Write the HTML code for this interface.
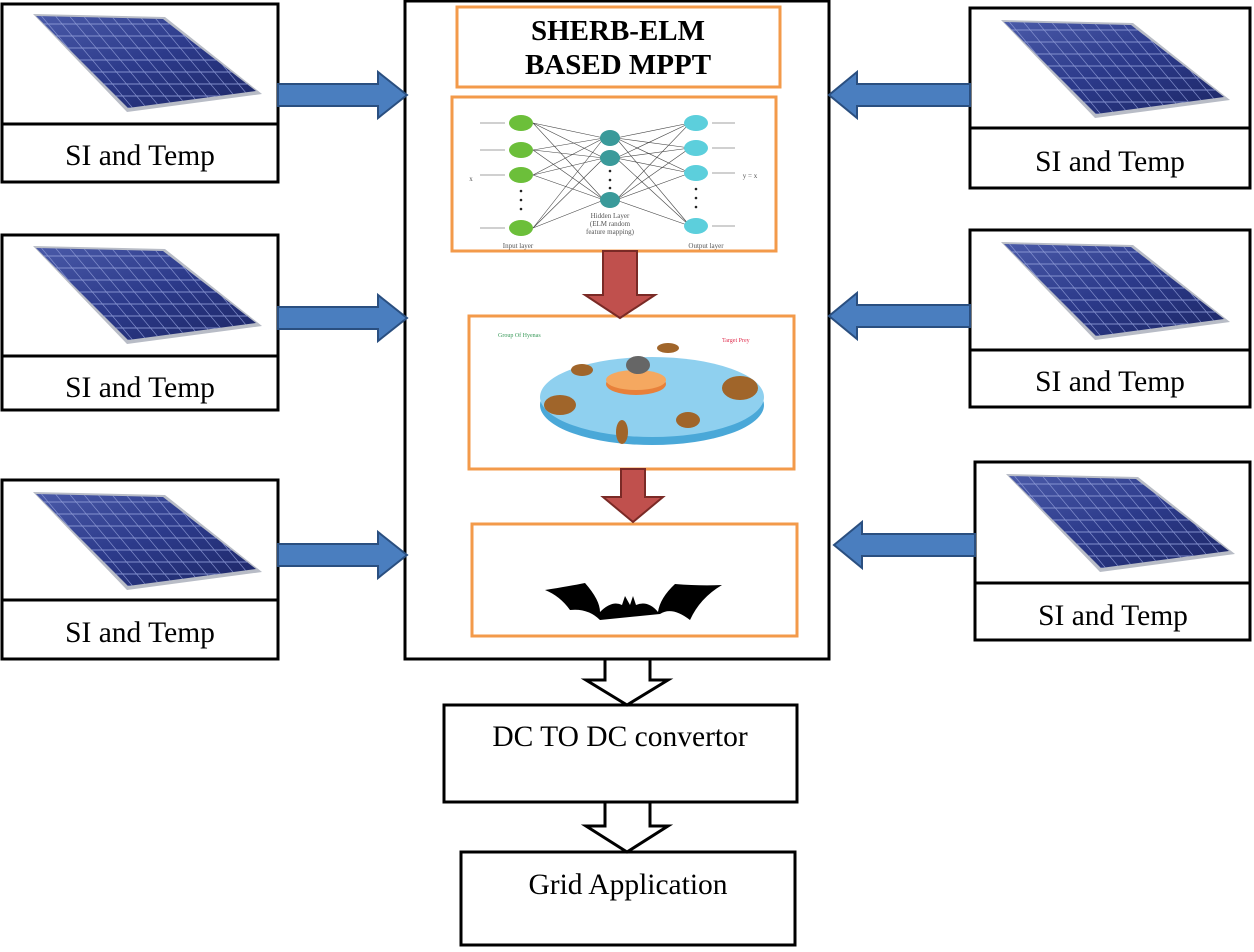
<!DOCTYPE html>
<html><head><meta charset="utf-8"><style>
body{margin:0;background:#fff}
text{font-family:"Liberation Serif",serif}
</style></head><body>
<svg width="1254" height="947" xmlns="http://www.w3.org/2000/svg">
<defs>
<linearGradient id="pg" x1="0" y1="0" x2="1" y2="1">
<stop offset="0" stop-color="#4a5aa8"/><stop offset="0.5" stop-color="#2c3a8a"/><stop offset="1" stop-color="#1d2766"/>
</linearGradient>
<pattern id="grid" width="14" height="12" patternUnits="userSpaceOnUse" patternTransform="skewX(40)">
<rect width="14" height="12" fill="none" stroke="#8d9ad6" stroke-width="0.8"/>
</pattern>
<g id="panel">
<polygon points="33,14 165,17 262,94 127,112" fill="#b8bcc6"/>
<polygon points="36,16 163,19 256,91 128,108" fill="url(#pg)"/>
<polygon points="36,16 163,19 256,91 128,108" fill="url(#grid)"/>
</g>
</defs>

<g fill="none" stroke="#000" stroke-width="3">
<rect x="2" y="4" width="276" height="178"/><line x1="2" y1="124" x2="278" y2="124"/>
<rect x="2" y="235" width="276" height="175"/><line x1="2" y1="356" x2="278" y2="356"/>
<rect x="2" y="480" width="276" height="179"/><line x1="2" y1="600" x2="278" y2="600"/>
<rect x="970" y="8" width="280" height="180"/><line x1="970" y1="128" x2="1250" y2="128"/>
<rect x="970" y="230" width="280" height="177"/><line x1="970" y1="350" x2="1250" y2="350"/>
<rect x="975" y="462" width="275" height="178"/><line x1="975" y1="583" x2="1250" y2="583"/>
<rect x="405" y="1" width="424" height="658"/>
<rect x="444" y="705" width="353" height="97"/>
<rect x="461" y="852" width="334" height="93"/>
</g>
<use href="#panel"/>
<use href="#panel" transform="translate(0,232)"/>
<use href="#panel" transform="translate(0,478)"/>
<use href="#panel" transform="translate(968,6)"/>
<use href="#panel" transform="translate(968,228)"/>
<use href="#panel" transform="translate(973,460)"/>

<g font-size="29.5" text-anchor="middle" fill="#000">
<text x="140" y="165">SI and Temp</text>
<text x="140" y="397">SI and Temp</text>
<text x="140" y="642">SI and Temp</text>
<text x="1110" y="171">SI and Temp</text>
<text x="1110" y="391">SI and Temp</text>
<text x="1113" y="625">SI and Temp</text>
<text x="620" y="746">DC TO DC convertor</text>
<text x="628" y="894">Grid Application</text>
</g>

<g fill="#4a7ebf" stroke="#2a4f80" stroke-width="2">
<polygon points="278,84 378,84 378,72 407,95 378,118 378,106 278,106"/>
<polygon points="278,307 378,307 378,295 407,318 378,341 378,329 278,329"/>
<polygon points="278,544 378,544 378,532 407,555 378,578 378,566 278,566"/>
<polygon points="970,84 857,84 857,72 829,95 857,118 857,106 970,106"/>
<polygon points="970,305 857,305 857,293 829,316 857,339 857,327 970,327"/>
<polygon points="975,534 862,534 862,522 834,545 862,568 862,556 975,556"/>
</g>

<g fill="#fff" stroke="#f39a4a" stroke-width="3">
<rect x="457" y="7" width="323" height="80"/>
<rect x="452" y="97" width="324" height="154"/>
<rect x="469" y="316" width="325" height="153"/>
<rect x="472" y="524" width="325" height="112"/>
</g>
<g font-size="29" font-weight="bold" text-anchor="middle">
<text x="618" y="40">SHERB-ELM</text>
<text x="618" y="74">BASED MPPT</text>
</g>

<g fill="#c0504d" stroke="#7a2a26" stroke-width="2">
<polygon points="603,251 637,251 637,295 655,295 620,318 585,295 603,295"/>
<polygon points="621,469 645,469 645,497 663,497 633,522 603,497 621,497"/>
</g>

<g fill="#fff" stroke="#000" stroke-width="3">
<polygon points="605,659 650,659 650,680 668,680 627,705 586,680 605,680"/>
<polygon points="605,802 650,802 650,826 668,826 627,852 586,826 605,826"/>
</g>

<g stroke="#444" stroke-width="0.6">
<line x1="533" y1="123" x2="604" y2="138"/><line x1="533" y1="123" x2="604" y2="158"/><line x1="533" y1="123" x2="604" y2="200"/>
<line x1="533" y1="150" x2="604" y2="138"/><line x1="533" y1="150" x2="604" y2="158"/><line x1="533" y1="150" x2="604" y2="200"/>
<line x1="533" y1="175" x2="604" y2="138"/><line x1="533" y1="175" x2="604" y2="158"/><line x1="533" y1="175" x2="604" y2="200"/>
<line x1="533" y1="228" x2="604" y2="138"/><line x1="533" y1="228" x2="604" y2="158"/><line x1="533" y1="228" x2="604" y2="200"/>
<line x1="690" y1="123" x2="616" y2="138"/><line x1="690" y1="123" x2="616" y2="158"/><line x1="690" y1="123" x2="616" y2="200"/>
<line x1="690" y1="148" x2="616" y2="138"/><line x1="690" y1="148" x2="616" y2="158"/><line x1="690" y1="148" x2="616" y2="200"/>
<line x1="690" y1="173" x2="616" y2="138"/><line x1="690" y1="173" x2="616" y2="158"/><line x1="690" y1="173" x2="616" y2="200"/>
<line x1="690" y1="226" x2="616" y2="138"/><line x1="690" y1="226" x2="616" y2="158"/><line x1="690" y1="226" x2="616" y2="200"/>
<line x1="480" y1="123" x2="505" y2="123"/><line x1="480" y1="150" x2="505" y2="150"/><line x1="480" y1="175" x2="505" y2="175"/><line x1="480" y1="228" x2="505" y2="228"/>
<line x1="712" y1="123" x2="735" y2="123"/><line x1="712" y1="148" x2="735" y2="148"/><line x1="712" y1="173" x2="735" y2="173"/><line x1="712" y1="226" x2="735" y2="226"/>
</g>
<g fill="#222"><circle cx="521" cy="191" r="1.3"/><circle cx="521" cy="200" r="1.3"/><circle cx="521" cy="209" r="1.3"/>
<circle cx="610" cy="171" r="1.3"/><circle cx="610" cy="180" r="1.3"/><circle cx="610" cy="188" r="1.3"/>
<circle cx="696" cy="189" r="1.3"/><circle cx="696" cy="198" r="1.3"/><circle cx="696" cy="207" r="1.3"/></g>
<g fill="#6cbf3a"><ellipse cx="521" cy="123" rx="12" ry="8"/><ellipse cx="521" cy="150" rx="12" ry="8"/><ellipse cx="521" cy="175" rx="12" ry="8"/><ellipse cx="521" cy="228" rx="12" ry="8"/></g>
<g fill="#3a9a9a"><ellipse cx="610" cy="138" rx="10" ry="8"/><ellipse cx="610" cy="158" rx="10" ry="8"/><ellipse cx="610" cy="200" rx="10" ry="8"/></g>
<g fill="#5ccfdc"><ellipse cx="696" cy="123" rx="12" ry="8"/><ellipse cx="696" cy="148" rx="12" ry="8"/><ellipse cx="696" cy="173" rx="12" ry="8"/><ellipse cx="696" cy="226" rx="12" ry="8"/></g>
<g font-size="7" fill="#555" text-anchor="middle">
<text x="610" y="218">Hidden Layer</text><text x="610" y="226">(ELM random</text><text x="610" y="234">feature mapping)</text>
<text x="518" y="248">Input layer</text><text x="706" y="248">Output layer</text>
<text x="750" y="178">y = x</text><text x="471" y="181">x</text>
</g>

<ellipse cx="652" cy="405" rx="112" ry="40" fill="#4aa8d8"/>
<ellipse cx="652" cy="397" rx="112" ry="40" fill="#8fd0ef"/>
<ellipse cx="636" cy="384" rx="30" ry="11" fill="#e8803a"/>
<ellipse cx="636" cy="380" rx="30" ry="10" fill="#f5a860"/>
<g fill="#a0652a">
<ellipse cx="638" cy="365" rx="12" ry="9" fill="#666"/>
<ellipse cx="582" cy="370" rx="11" ry="6"/>
<ellipse cx="668" cy="348" rx="11" ry="5"/>
<ellipse cx="740" cy="388" rx="18" ry="12"/>
<ellipse cx="560" cy="405" rx="16" ry="10"/>
<ellipse cx="688" cy="420" rx="12" ry="8"/>
<ellipse cx="622" cy="432" rx="6" ry="12"/>
</g>
<text x="498" y="337" font-size="6" fill="#3a9a5a" font-family="Liberation Sans">Group Of Hyenas</text>
<text x="722" y="342" font-size="6" fill="#e03050" font-family="Liberation Sans">Target Prey</text>

<path d="M545,590 Q570,586 585,583 Q600,600 600,612 Q612,600 622,605 L625,596 L630,605 L633,596 L636,605 Q648,600 658,612 Q660,598 675,584 Q700,586 722,585 Q700,598 690,620 Q672,606 660,614 L600,620 Q588,608 570,610 Q560,596 545,590 Z" fill="#000"/>
</svg>
</body></html>
